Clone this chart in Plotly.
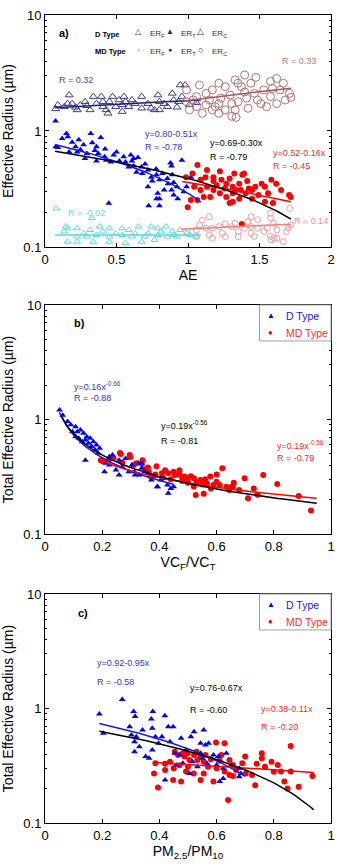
import numpy as np
import plotly.graph_objects as go

# ---------------- Panel a data (AE vs effective radius) ----------------
a_dT_x = [0.074,0.15,0.16,0.236,0.32,0.39,0.075,0.09,0.214,0.169,0.225,0.248,0.293,0.349,0.372,0.36,0.28,0.417,0.46,0.55,
          0.62,0.65,0.52,0.585,0.563,0.608,0.675,0.72,0.777,0.878,0.957,0.80,0.72,0.743,0.78,0.822,0.856,0.90,0.923,0.89,
          0.833,0.788,0.99,0.446,0.725,0.78,0.80,0.80,0.928,0.885,0.885,0.19,0.12,0.27,0.33,0.42,0.48,0.50,0.43,0.36,
          0.62,0.68,0.70,0.64,0.75,0.86,1.02,0.97,0.90,0.60]
a_dT_y = [1.22,0.95,0.89,0.84,0.95,0.88,0.73,0.72,0.73,0.66,0.66,0.69,0.64,0.68,0.64,0.73,0.58,0.60,0.54,0.60,
          0.58,0.59,0.55,0.49,0.54,0.55,0.49,0.46,0.47,0.53,0.56,0.38,0.33,0.40,0.42,0.43,0.39,0.36,0.33,0.42,
          0.31,0.29,0.33,0.238,0.227,0.26,0.26,0.227,0.26,0.31,0.50,0.80,0.86,0.76,0.79,0.70,0.62,0.66,0.56,0.55,
          0.50,0.43,0.52,0.44,0.37,0.35,0.40,0.30,0.28,0.62]
a_mT_x = [1.066,0.986,1.031,1.133,1.178,1.223,1.268,1.324,1.38,1.448,1.515,1.538,1.617,1.651,1.707,1.718,1.594,1.538,1.493,1.448,
          1.403,1.358,1.313,1.291,1.268,1.223,1.178,1.155,1.11,1.065,1.02,0.998,1.088,1.133,1.2,1.313,1.336,1.392,1.376,1.234,
          1.291,1.358,1.414,1.47,1.56,1.583,1.313,1.257,1.369,1.425,1.178,1.088,1.043,1.122]
a_mT_y = [0.51,0.40,0.43,0.46,0.40,0.45,0.35,0.43,0.42,0.31,0.35,0.33,0.35,0.31,0.28,0.27,0.24,0.245,0.28,0.26,
          0.29,0.26,0.245,0.24,0.27,0.29,0.31,0.27,0.27,0.254,0.254,0.22,0.31,0.33,0.34,0.33,0.31,0.43,0.158,0.38,
          0.39,0.35,0.37,0.33,0.29,0.38,0.29,0.32,0.31,0.32,0.37,0.38,0.33,0.40]
a_dC_x = [0.09,0.169,0.158,0.248,0.338,0.394,0.405,0.44,0.54,0.552,0.608,0.676,0.72,0.79,0.80,0.89,0.90,0.946,0.98,0.923,
          0.54,0.676,0.293,0.135,0.19,0.214,0.28,0.36,0.45,0.495,0.585,0.63,0.743,0.833,0.856,0.935,0.957,1.01,0.80,0.766,
          0.518,0.428,0.473,0.315,0.225,0.405,0.563,0.075,1.06]
a_dC_y = [1.68,2.04,1.72,1.68,1.98,1.98,1.79,1.42,1.68,1.98,1.85,1.98,1.72,2.04,1.52,2.11,1.85,2.49,2.49,1.60,
          1.47,1.57,1.65,1.62,1.72,1.60,1.79,1.72,1.79,1.62,1.62,1.72,1.57,1.72,1.62,1.79,1.98,1.68,1.79,1.52,
          1.85,1.52,1.98,1.52,1.52,1.62,1.79,1.55,1.75]
a_mC_x = [0.99,1.08,1.06,1.15,1.17,1.216,1.26,1.33,1.396,1.44,1.475,1.577,1.62,1.71,1.68,1.577,1.486,1.396,1.35,1.33,
          1.26,1.19,1.126,1.06,1.01,0.99,1.10,1.216,1.306,1.42,1.464,1.53,1.59,1.644,1.51,1.374,1.295,1.23,1.126,1.036,
          1.41,1.55,1.62,1.667,1.306,1.216,1.35,1.17,1.336,1.72]
a_mC_y = [2.26,2.49,1.98,1.85,2.26,2.58,2.41,2.76,3.04,2.58,2.90,2.68,2.84,2.11,1.85,1.98,1.85,2.17,1.79,1.52,
          1.52,1.62,1.68,1.62,1.52,1.79,1.42,1.42,1.34,1.57,2.11,2.26,2.33,2.26,1.72,2.41,2.04,1.92,2.11,1.85,
          1.92,1.62,1.72,2.58,1.72,1.72,2.58,1.52,1.31,1.95]
a_dF_x = [0.079,0.327,0.146,0.158,0.225,0.315,0.383,0.45,0.54,0.586,0.653,0.743,0.788,0.845,0.89,0.946,0.991,0.225,0.293,0.36,
          0.45,0.54,0.608,0.698,0.788,0.856,0.923,0.135,0.27,0.405,0.495,0.631,0.721,0.811,0.901,0.158,0.225,0.338,0.45,0.563,
          0.676,0.766,1.014,1.059]
a_dF_y = [0.215,0.177,0.150,0.145,0.145,0.140,0.150,0.145,0.145,0.140,0.150,0.150,0.145,0.150,0.136,0.140,0.131,0.123,0.123,0.127,
          0.123,0.127,0.123,0.123,0.127,0.123,0.123,0.136,0.131,0.136,0.131,0.131,0.131,0.136,0.127,0.111,0.111,0.111,0.111,0.108,
          0.111,0.115,0.127,0.123]
a_mF_x = [1.149,1.10,1.261,1.329,1.419,1.441,1.486,1.577,1.599,1.712,1.554,1.486,1.396,1.306,1.216,1.171,1.126,1.059,0.991,1.059,
          1.149,1.239,1.351,1.441,1.532,1.622,1.689,1.72,1.351,1.464,1.577,1.622,1.667,1.70,1.171,1.261,1.081,1.441,1.577,1.58,1.60]
a_mF_y = [0.182,0.170,0.158,0.160,0.165,0.150,0.172,0.178,0.160,0.215,0.145,0.145,0.145,0.150,0.150,0.145,0.145,0.140,0.136,0.123,
          0.127,0.131,0.136,0.131,0.136,0.140,0.136,0.155,0.123,0.123,0.123,0.119,0.111,0.145,0.119,0.123,0.155,0.182,0.195,0.115,0.120]

# fit lines panel a: y = c0 + c1*x over [x0, x1]
a_fits = {
    "dT": (0.80, -0.51, 0.07, 1.09),
    "all": (0.69, -0.30, 0.07, 1.72),
    "mT": (0.52, -0.16, 0.96, 1.72),
    "dC": (1.57, 0.26, 0.07, 1.09),
    "mC": (1.13, 0.70, 0.96, 1.72),
    "dF": (0.127, 0.0, 0.07, 1.09),
    "mF": (0.123, 0.02, 0.95, 1.72),
}

# ---------------- Panel b data (VCF/VCT) ----------------
b_d_x = [0.051,0.062,0.079,0.09,0.107,0.113,0.124,0.135,0.146,0.158,0.169,0.18,0.191,0.096,0.107,0.118,0.13,0.141,0.152,0.163,
         0.175,0.186,0.141,0.214,0.225,0.236,0.259,0.282,0.304,0.327,0.338,0.248,0.27,0.293,0.315,0.338,0.36,0.383,0.405,0.428,
         0.394,0.44,0.45,0.417,0.372,0.349,0.225,0.208,0.259,0.392,0.431,0.313,0.33]
b_d_y = [1.21,1.09,0.96,0.90,0.865,0.78,0.81,0.757,0.708,0.685,0.64,0.60,0.56,0.78,0.708,0.685,0.64,0.662,0.62,0.58,
         0.542,0.506,0.44,0.414,0.473,0.49,0.44,0.457,0.40,0.414,0.414,0.362,0.387,0.35,0.327,0.375,0.339,0.317,0.296,0.268,
         0.259,0.25,0.259,0.306,0.296,0.35,0.40,0.35,0.327,0.259,0.227,0.35,0.327]
b_m_x = [0.195,0.203,0.225,0.262,0.265,0.296,0.298,0.319,0.341,0.338,0.363,0.36,0.39,0.386,0.409,0.42,0.431,0.45,0.454,0.471,
         0.48,0.488,0.499,0.51,0.521,0.53,0.544,0.55,0.566,0.578,0.589,0.60,0.611,0.62,0.634,0.645,0.657,0.679,0.527,0.555,
         0.698,0.71,0.743,0.763,0.812,0.887,0.93,0.653,0.58,0.50,0.44,0.41,0.37,0.47,0.60,0.52,0.73,0.56,0.66,0.48,
         0.35,0.31,0.27,0.24]
b_m_y = [0.44,0.43,0.45,0.51,0.50,0.49,0.47,0.414,0.44,0.41,0.35,0.38,0.39,0.33,0.34,0.36,0.339,0.35,0.327,0.33,
         0.31,0.317,0.30,0.32,0.306,0.28,0.296,0.27,0.277,0.317,0.268,0.286,0.268,0.375,0.259,0.242,0.259,0.242,0.219,0.225,
         0.306,0.205,0.22,0.327,0.273,0.215,0.16,0.259,0.25,0.28,0.30,0.31,0.32,0.36,0.33,0.26,0.25,0.30,0.28,0.29,
         0.37,0.40,0.42,0.46]
# power fits y = a*x^b over [x0, x1]
b_fits = {
    "d": (0.16, -0.66, 0.05, 0.45),
    "m": (0.20, -0.48, 0.19, 0.95),
    "all": (0.18, -0.62, 0.056, 0.95),
}

# ---------------- Panel c data (PM2.5/PM10) ----------------
c_d_x = [0.27,0.19,0.31,0.315,0.377,0.372,0.419,0.204,0.296,0.302,0.319,0.313,0.33,0.313,0.352,0.364,0.341,0.375,0.386,0.409,
         0.431,0.448,0.437,0.454,0.471,0.493,0.476,0.51,0.521,0.555,0.544,0.561,0.572,0.544,0.55,0.589,0.606,0.634,0.566,0.60,
         0.623,0.651,0.679,0.685,0.679,0.611,0.623,0.505,0.42,0.375,0.397,0.459,0.482,0.516,0.533]
c_d_y = [1.20,0.895,0.94,0.85,0.94,0.81,0.865,0.607,0.693,0.587,0.568,0.513,0.464,0.42,0.38,0.367,0.649,0.671,0.568,0.568,
         0.693,0.693,0.513,0.406,0.393,0.434,0.549,0.568,0.628,0.649,0.497,0.48,0.497,0.406,0.367,0.393,0.38,0.406,0.332,0.321,
         0.30,0.321,0.30,0.271,0.254,0.23,0.245,0.271,0.237,0.434,0.497,0.321,0.332,0.343,0.31]
c_m_x = [0.386,0.381,0.395,0.42,0.437,0.448,0.454,0.465,0.482,0.488,0.499,0.505,0.521,0.533,0.544,0.555,0.561,0.476,0.493,0.544,
         0.555,0.589,0.598,0.617,0.628,0.645,0.657,0.668,0.69,0.702,0.628,0.645,0.657,0.724,0.735,0.758,0.758,0.769,0.792,0.814,
         0.825,0.837,0.848,0.859,0.859,0.887,0.935,0.64,0.42,0.45,0.50,0.52,0.57,0.60,0.61,0.70,0.74,0.80,0.47,0.53,0.58]
c_m_y = [0.332,0.271,0.204,0.29,0.343,0.237,0.42,0.393,0.406,0.38,0.406,0.355,0.393,0.355,0.38,0.343,0.393,0.23,0.281,0.237,
         0.271,0.23,0.505,0.393,0.497,0.355,0.321,0.29,0.332,0.271,0.281,0.262,0.257,0.262,0.214,0.406,0.367,0.31,0.343,0.321,
         0.281,0.23,0.20,0.471,0.281,0.207,0.257,0.159,0.33,0.30,0.31,0.27,0.31,0.30,0.35,0.38,0.33,0.28,0.32,0.42,0.36]
c_fits = {
    "d": (0.92, -0.95, 0.19, 0.70),
    "all": (0.76, -0.67, 0.19, 0.94),
    "m": (0.38, -0.11, 0.38, 0.94),
}

legend_labels = ["D Type", "MD Type"]

BLUE = "#0000ff"
RED = "#ff0000"
NAVY = "#3c3c8c"
ROSY = "#b07474"
CYAN = "#55dede"
PINK = "#f4a0a0"
TXT_BLUE = "#3535d5"
TXT_RED = "#ff2a2a"

fig = go.Figure()


def lin(c, n=60):
    c0, c1, x0, x1 = c
    xs = np.linspace(x0, x1, n)
    return xs, c0 + c1 * xs


def pw(c, n=80):
    a, b, x0, x1 = c
    xs = np.linspace(x0, x1, n)
    return xs, a * xs ** b


def sc(x, y, xa, ya, sym, size, color, fill=True, width=1):
    if fill:
        marker = dict(symbol=sym, size=size, color=color, line=dict(width=0))
    else:
        marker = dict(symbol=sym + "-open", size=size, color=color, line=dict(width=width, color=color))
    fig.add_trace(go.Scatter(x=x, y=y, xaxis=xa, yaxis=ya, mode="markers", marker=marker,
                             showlegend=False))


def ln(xy, xa, ya, color, w=1.5):
    fig.add_trace(go.Scatter(x=xy[0], y=xy[1], xaxis=xa, yaxis=ya, mode="lines",
                             line=dict(color=color, width=w), showlegend=False))


# panel a
sc(a_dF_x, a_dF_y, "x", "y", "triangle-up", 6, CYAN, fill=False)
sc(a_mF_x, a_mF_y, "x", "y", "circle", 6, PINK, fill=False)
sc(a_dC_x, a_dC_y, "x", "y", "triangle-up", 7, NAVY, fill=False)
sc(a_mC_x, a_mC_y, "x", "y", "circle", 8, ROSY, fill=False)
sc(a_dT_x, a_dT_y, "x", "y", "triangle-up", 6, BLUE)
sc(a_mT_x, a_mT_y, "x", "y", "circle", 6, RED)
ln(lin(a_fits["dF"]), "x", "y", CYAN)
ln(lin(a_fits["mF"]), "x", "y", "#f08080")
ln(lin(a_fits["dC"]), "x", "y", "#22227a")
ln(lin(a_fits["mC"]), "x", "y", "#a05a5a")
ln(lin(a_fits["dT"]), "x", "y", "#1a1ae0")
ln(lin(a_fits["mT"]), "x", "y", RED)
ln(lin(a_fits["all"]), "x", "y", "black")

# panel b
sc(b_m_x, b_m_y, "x2", "y2", "circle", 6, RED)
sc(b_d_x, b_d_y, "x2", "y2", "triangle-up", 6, BLUE)
ln(pw(b_fits["d"]), "x2", "y2", "#1a1ae0")
ln(pw(b_fits["m"]), "x2", "y2", RED)
ln(pw(b_fits["all"]), "x2", "y2", "black")

# panel c
sc(c_m_x, c_m_y, "x3", "y3", "circle", 6, RED)
sc(c_d_x, c_d_y, "x3", "y3", "triangle-up", 6, BLUE)
ln(lin(c_fits["d"]), "x3", "y3", "#1a1ae0")
ln(lin(c_fits["m"]), "x3", "y3", RED)
ln(lin(c_fits["all"]), "x3", "y3", "black")

FONT = "Arial, Liberation Sans, sans-serif"
ann = []
shapes = []


def A(text, xd, yd, ax, color="black", size=9, bold=False, anchor="left"):
    if bold:
        text = "<b>" + text + "</b>"
    ann.append(dict(text=text, x=xd, y=yd, xref=ax[0] + " domain", yref=ax[1] + " domain",
                    showarrow=False, xanchor=anchor, yanchor="middle", borderpad=0,
                    font=dict(family=FONT, size=size, color=color)))


ax_a, ax_b, ax_c = ("x", "y"), ("x2", "y2"), ("x3", "y3")
# panel a annotations
A("a)", 0.047, 0.922, ax_a, size=11, bold=True)
A("D Type", 0.172, 0.918, ax_a, size=7.5, bold=True)
A("MD Type", 0.172, 0.841, ax_a, size=7.5, bold=True)
LG = "#333333"
A("△", 0.328, 0.93, ax_a, LG, size=8, anchor="center")
A("ER<sub>F</sub>", 0.365, 0.918, ax_a, LG, size=8)
A("▲", 0.437, 0.93, ax_a, LG, size=8, anchor="center")
A("ER<sub>T</sub>", 0.473, 0.918, ax_a, LG, size=8)
A("△", 0.545, 0.93, ax_a, LG, size=9, anchor="center")
A("ER<sub>C</sub>", 0.581, 0.918, ax_a, LG, size=8)
A("○", 0.328, 0.848, ax_a, LG, size=6, anchor="center")
A("ER<sub>F</sub>", 0.365, 0.841, ax_a, LG, size=8)
A("●", 0.437, 0.85, ax_a, LG, size=7, anchor="center")
A("ER<sub>T</sub>", 0.473, 0.841, ax_a, LG, size=8)
A("○", 0.545, 0.85, ax_a, LG, size=9, anchor="center")
A("ER<sub>C</sub>", 0.581, 0.841, ax_a, LG, size=8)
A("R = 0.32", 0.047, 0.72, ax_a, "#4050b0")
A("R = 0.33", 0.824, 0.802, ax_a, "#c07878")
A("y=0.80-0.51x", 0.345, 0.487, ax_a, TXT_BLUE)
A("R = -0.78", 0.345, 0.431, ax_a, TXT_BLUE)
A("y=0.69-0.30x", 0.572, 0.448, ax_a, "black")
A("R = -0.79", 0.572, 0.388, ax_a, "black")
A("y=0.52-0.16x", 0.795, 0.405, ax_a, TXT_RED)
A("R = -0.45", 0.795, 0.349, ax_a, TXT_RED)
A("R = -0.02", 0.078, 0.147, ax_a, "#70dede")
A("R = 0.14", 0.868, 0.112, ax_a, "#f09090")
# panel b annotations
A("b)", 0.098, 0.921, ax_b, size=11, bold=True)
A("y=0.16x<sup>-0.66</sup>", 0.098, 0.645, ax_b, TXT_BLUE)
A("R = -0.88", 0.098, 0.594, ax_b, TXT_BLUE)
A("y=0.19x<sup>-0.56</sup>", 0.402, 0.478, ax_b, "black")
A("R = -0.81", 0.402, 0.406, ax_b, "black")
A("y=0.19x<sup>-0.56</sup>", 0.807, 0.39, ax_b, TXT_RED)
A("R = -0.79", 0.807, 0.332, ax_b, TXT_RED)
# panel c annotations
A("c)", 0.111, 0.917, ax_c, size=11, bold=True)
A("y=0.92-0.95x", 0.179, 0.699, ax_c, TXT_BLUE)
A("R = -0.58", 0.179, 0.616, ax_c, TXT_BLUE)
A("y=0.76-0.67x", 0.503, 0.590, ax_c, "black")
A("R = -0.60", 0.503, 0.493, ax_c, "black")
A("y=0.38-0.11x", 0.753, 0.498, ax_c, TXT_RED)
A("R = -0.20", 0.753, 0.419, ax_c, TXT_RED)

# legend boxes for panels b and c (drawn as text + frame)
for ax in (ax_b, ax_c):
    shapes.append(dict(type="rect", xref=ax[0] + " domain", yref=ax[1] + " domain",
                       x0=0.75, x1=1.0, y0=0.843, y1=1.0,
                       line=dict(color="#a0a0a0", width=1), fillcolor="white", layer="above"))
    A("▲", 0.79, 0.953, ax, BLUE, size=8, anchor="center")
    A(legend_labels[0], 0.838, 0.95, ax, "#1a1ad5", size=10.5)
    A("●", 0.79, 0.881, ax, RED, size=8, anchor="center")
    A(legend_labels[1], 0.838, 0.878, ax, TXT_RED, size=10.5)

tickfont = dict(family=FONT, size=13, color="black")
titlefont = dict(family=FONT, size=14, color="black")


def xax(rng, dtick, title, anchor):
    return dict(range=rng, dtick=dtick, tick0=0, showline=True, linecolor="black", linewidth=1,
                mirror="allticks", ticks="inside", ticklen=4, tickcolor="black", showgrid=False,
                zeroline=False, tickfont=tickfont, anchor=anchor,
                title=dict(text=title, font=titlefont, standoff=2))


def yax(dom, title, anchor):
    return dict(type="log", range=[-1, 1], dtick=1, domain=dom, showline=True, linecolor="black",
                linewidth=1, mirror="allticks", ticks="inside", ticklen=4, tickcolor="black",
                showgrid=False, zeroline=False, tickfont=tickfont, anchor=anchor,
                minor=dict(ticks="inside", ticklen=2, tickcolor="black", dtick="D1", showgrid=False),
                title=dict(text=title, font=titlefont, standoff=6))


fig.update_layout(
    width=343, height=866, margin=dict(l=39, r=8, t=15, b=43),
    paper_bgcolor="white", plot_bgcolor="white",
    font=dict(family=FONT, color="black"),
    showlegend=False,
    xaxis=xax([0, 2], 0.5, "AE", "y"),
    yaxis=yax([0.7129, 1.0], "Effective Radius (µm)", "x"),
    xaxis2=xax([0, 1], 0.2, "VC<sub>F</sub>/VC<sub>T</sub>", "y2"),
    yaxis2=yax([0.3577, 0.6411], "Total Effective Radius (µm)", "x2"),
    xaxis3=xax([0, 1], 0.2, "PM<sub>2.5</sub>/PM<sub>10</sub>", "y3"),
    yaxis3=yax([0.0, 0.2834], "Total Effective Radius (µm)", "x3"),
    annotations=ann,
    shapes=shapes,
)

fig.write_html("out.html")
